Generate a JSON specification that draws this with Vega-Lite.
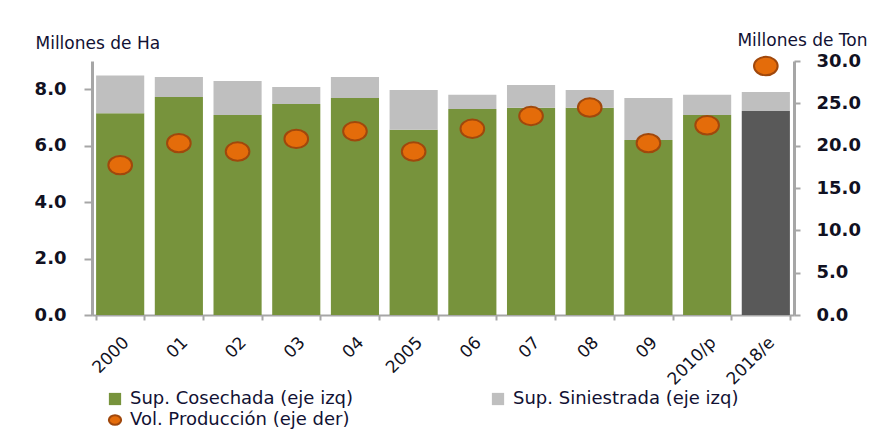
{
  "$schema": "https://vega.github.io/schema/vega-lite/v6.json",
  "width": 702,
  "height": 254,
  "autosize": {"type": "none"},
  "padding": {"left": 92, "top": 61, "right": 96, "bottom": 119},
  "background": "white",
  "config": {"font": "DejaVu Sans", "view": {"stroke": null}},
  "datasets": {
    "superficie": [
      {"anio": "2000", "serie": "Sup. Cosechada (eje izq)", "valor": 7.15},
      {"anio": "2000", "serie": "Sup. Siniestrada (eje izq)", "valor": 1.34},
      {"anio": "01", "serie": "Sup. Cosechada (eje izq)", "valor": 7.72},
      {"anio": "01", "serie": "Sup. Siniestrada (eje izq)", "valor": 0.71},
      {"anio": "02", "serie": "Sup. Cosechada (eje izq)", "valor": 7.09},
      {"anio": "02", "serie": "Sup. Siniestrada (eje izq)", "valor": 1.2},
      {"anio": "03", "serie": "Sup. Cosechada (eje izq)", "valor": 7.48},
      {"anio": "03", "serie": "Sup. Siniestrada (eje izq)", "valor": 0.6},
      {"anio": "04", "serie": "Sup. Cosechada (eje izq)", "valor": 7.69},
      {"anio": "04", "serie": "Sup. Siniestrada (eje izq)", "valor": 0.74},
      {"anio": "2005", "serie": "Sup. Cosechada (eje izq)", "valor": 6.56},
      {"anio": "2005", "serie": "Sup. Siniestrada (eje izq)", "valor": 1.41},
      {"anio": "06", "serie": "Sup. Cosechada (eje izq)", "valor": 7.3},
      {"anio": "06", "serie": "Sup. Siniestrada (eje izq)", "valor": 0.5},
      {"anio": "07", "serie": "Sup. Cosechada (eje izq)", "valor": 7.34},
      {"anio": "07", "serie": "Sup. Siniestrada (eje izq)", "valor": 0.81},
      {"anio": "08", "serie": "Sup. Cosechada (eje izq)", "valor": 7.34},
      {"anio": "08", "serie": "Sup. Siniestrada (eje izq)", "valor": 0.63},
      {"anio": "09", "serie": "Sup. Cosechada (eje izq)", "valor": 6.2},
      {"anio": "09", "serie": "Sup. Siniestrada (eje izq)", "valor": 1.49},
      {"anio": "2010/p", "serie": "Sup. Cosechada (eje izq)", "valor": 7.09},
      {"anio": "2010/p", "serie": "Sup. Siniestrada (eje izq)", "valor": 0.71},
      {"anio": "2018/e", "serie": "Sup. Cosechada 2018/e", "valor": 7.23},
      {"anio": "2018/e", "serie": "Sup. Siniestrada (eje izq)", "valor": 0.67}
    ],
    "produccion": [
      {"anio": "2000", "serie": "Vol. Producción (eje der)", "valor": 17.7},
      {"anio": "01", "serie": "Vol. Producción (eje der)", "valor": 20.3},
      {"anio": "02", "serie": "Vol. Producción (eje der)", "valor": 19.3},
      {"anio": "03", "serie": "Vol. Producción (eje der)", "valor": 20.8},
      {"anio": "04", "serie": "Vol. Producción (eje der)", "valor": 21.7},
      {"anio": "2005", "serie": "Vol. Producción (eje der)", "valor": 19.3},
      {"anio": "06", "serie": "Vol. Producción (eje der)", "valor": 22.0},
      {"anio": "07", "serie": "Vol. Producción (eje der)", "valor": 23.5},
      {"anio": "08", "serie": "Vol. Producción (eje der)", "valor": 24.5},
      {"anio": "09", "serie": "Vol. Producción (eje der)", "valor": 20.3},
      {"anio": "2010/p", "serie": "Vol. Producción (eje der)", "valor": 22.4},
      {"anio": "2018/e", "serie": "Vol. Producción (eje der)", "valor": 29.4}
    ]
  },
  "layer": [
    {
      "data": {"name": "superficie"},
      "mark": {"type": "bar"},
      "encoding": {
        "x": {
          "field": "anio", "type": "nominal", "sort": null, "title": null,
          "scale": {"paddingInner": 0.18, "paddingOuter": 0.07},
          "axis": {
            "labelAngle": -45, "labelFontSize": 17, "labelColor": "#111122",
            "domainColor": "#A6A6A6", "domainWidth": 2, "tickColor": "#A6A6A6",
            "tickWidth": 2, "tickSize": 5, "tickBand": "extent", "labelPadding": 14
          }
        },
        "y": {
          "field": "valor", "type": "quantitative", "stack": "zero",
          "scale": {"domain": [0, 9], "nice": false},
          "axis": {
            "values": [0, 2, 4, 6, 8], "format": ".1f", "grid": false,
            "labelFontSize": 18, "labelFontWeight": "bold", "labelColor": "#111122",
            "labelPadding": 18, "tickSize": 8, "tickColor": "#A6A6A6", "tickWidth": 2,
            "domainColor": "#A6A6A6", "domainWidth": 3,
            "title": "Millones de Ha", "titleAngle": 0, "titleAlign": "left",
            "titleBaseline": "alphabetic", "titleX": -57, "titleY": -13,
            "titleFontSize": 17, "titleFontWeight": "normal", "titleColor": "#111133"
          }
        },
        "order": {"field": "serie", "sort": "ascending"},
        "color": {
          "field": "serie", "type": "nominal",
          "scale": {
            "domain": ["Sup. Cosechada (eje izq)", "Sup. Siniestrada (eje izq)", "Vol. Producción (eje der)", "Sup. Cosechada 2018/e"],
            "range": ["#77933C", "#BFBFBF", "#E46C0A", "#595959"]
          },
          "legend": {
            "title": null, "orient": "none", "legendX": 14, "legendY": 329,
            "direction": "horizontal", "columns": 2, "columnPadding": 135,
            "values": ["Sup. Cosechada (eje izq)", "Sup. Siniestrada (eje izq)", "Vol. Producción (eje der)"],
            "labelFontSize": 18, "labelColor": "#111133", "symbolSize": 150,
            "rowPadding": 3, "labelOffset": 6, "labelLimit": 400,
            "encode": {
              "symbols": {
                "update": {
                  "stroke": {"value": "#A0480C"},
                  "strokeWidth": {"signal": "datum.value === 'Vol. Producción (eje der)' ? 2 : 0"}
                }
              }
            }
          }
        }
      }
    },
    {
      "data": {"name": "produccion"},
      "mark": {"type": "point", "filled": true, "size": 560, "opacity": 1, "stroke": "#A0480C", "strokeWidth": 2},
      "encoding": {
        "x": {"field": "anio", "type": "nominal", "sort": null},
        "y": {
          "field": "valor", "type": "quantitative",
          "scale": {"domain": [0, 30], "nice": false},
          "axis": {
            "orient": "right", "values": [0, 5, 10, 15, 20, 25, 30], "format": ".1f", "grid": false,
            "labelFontSize": 18, "labelFontWeight": "bold", "labelColor": "#111122",
            "labelPadding": 16, "tickSize": 6, "tickColor": "#A6A6A6", "tickWidth": 2,
            "domainColor": "#A6A6A6", "domainWidth": 3,
            "title": "Millones de Ton", "titleAngle": 0, "titleAlign": "right",
            "titleBaseline": "alphabetic", "titleX": 73, "titleY": -16,
            "titleFontSize": 17, "titleFontWeight": "normal", "titleColor": "#111133"
          }
        },
        "color": {"field": "serie", "type": "nominal"},
        "shape": {
          "field": "serie", "type": "nominal",
          "scale": {
            "domain": ["Sup. Cosechada (eje izq)", "Sup. Siniestrada (eje izq)", "Vol. Producción (eje der)", "Sup. Cosechada 2018/e"],
            "range": ["square", "square", "M-1,0A1,0.78,0,1,0,1,0A1,0.78,0,1,0,-1,0Z", "square"]
          },
          "legend": null
        }
      }
    }
  ],
  "resolve": {"scale": {"y": "independent"}}
}
